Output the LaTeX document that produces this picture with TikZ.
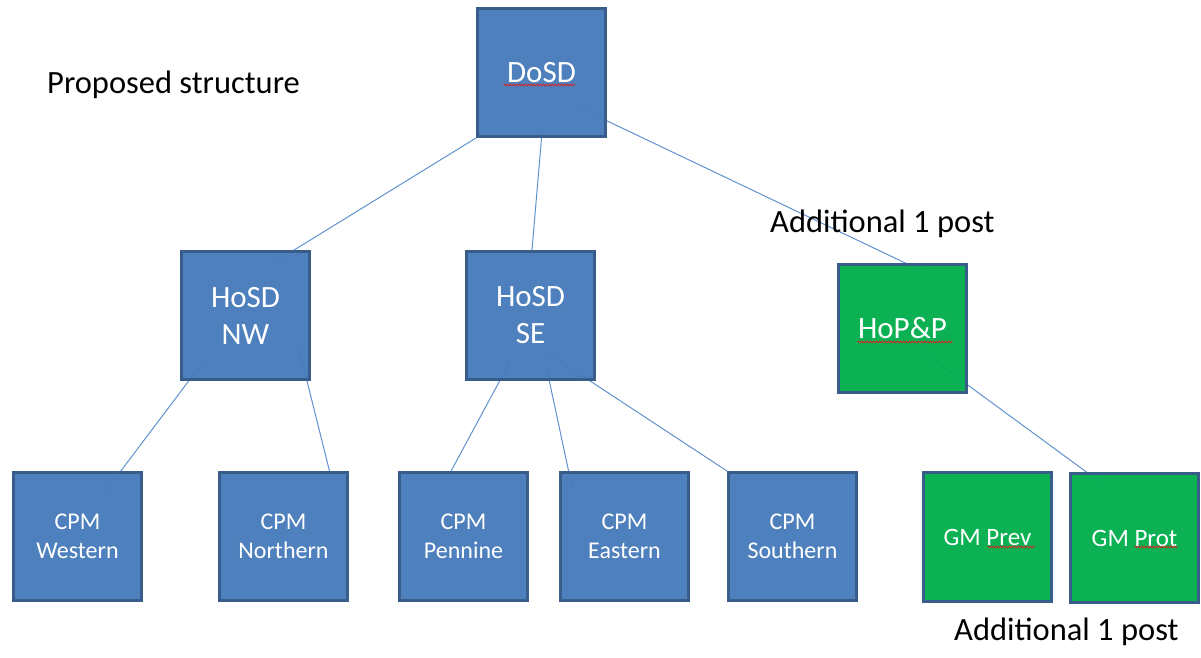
\documentclass[tikz,border=0pt]{standalone}
\usepackage{fontspec}
\setmainfont{Carlito}
\usetikzlibrary{calc,decorations.pathmorphing,backgrounds}
\definecolor{boxblue}{RGB}{70,122,186}
\definecolor{boxedge}{RGB}{56,93,138}
\definecolor{boxgreen}{RGB}{0,174,74}
\definecolor{linkblue}{RGB}{96,146,208}
\definecolor{squig}{RGB}{210,40,40}
\tikzset{
  orgbox/.style={draw=boxedge, line width=3pt, fill=boxblue, fill opacity=0.955, text opacity=1,
    text=white, minimum width=128pt, minimum height=128pt, inner sep=0pt, align=center},
  bigtxt/.style={font=\fontsize{31}{37}\selectfont},
  smalltxt/.style={font=\fontsize{24}{29}\selectfont},
  greenbox/.style={orgbox, fill=boxgreen},
  link/.style={draw=linkblue, line width=1pt},
  spell/.style={draw=squig, line width=0.8pt, decorate, decoration={snake, amplitude=0.9pt, segment length=3pt}},
  plainlabel/.style={anchor=base west, inner sep=0pt, font=\fontsize{32.5}{38}\selectfont, text=black}
}
\begin{document}
\begin{tikzpicture}[x=1pt,y=-1pt]
\useasboundingbox (0,0) rectangle (1201,657);
% boxes
\node[orgbox,bigtxt] (dosd) at (541.5,72.5) {DoSD};
\node[orgbox,bigtxt] (nw) at (245.5,315.5) {HoSD\\NW};
\node[orgbox,bigtxt] (se) at (530.5,315.5) {HoSD\\SE};
\node[greenbox,bigtxt] (hopp) at (902.5,328.5) {HoP\&P};
\node[orgbox,smalltxt] (west) at (77.5,536.5) {CPM\\Western};
\node[orgbox,smalltxt] (north) at (283.5,536.5) {CPM\\Northern};
\node[orgbox,smalltxt] (penn) at (463.5,536.5) {CPM\\Pennine};
\node[orgbox,smalltxt] (east) at (624.5,536.5) {CPM\\Eastern};
\node[orgbox,smalltxt] (south) at (792.5,536.5) {CPM\\Southern};
\node[greenbox,smalltxt,font=\fontsize{25}{29}\selectfont,minimum height=129pt] (prev) at (987.5,537) {GM Prev};
\node[greenbox,smalltxt,font=\fontsize{25}{29}\selectfont,minimum height=129pt] (prot) at (1134.5,538) {GM Prot};
% connectors behind the boxes
\begin{pgfonlayer}{background}
\draw[link] (dosd.south west) -- ($(nw.center)+(27.5,-52.5)$);
\draw[link] ($(dosd.center)+(0.5,60)$) -- ($(se.center)+(1,-60)$);
\draw[link] ($(dosd.center)+(38.5,35.5)$) -- ($(hopp.center)+(17.5,-58.5)$);
\draw[link] ($(hopp.center)+(17.5,21.5)$) -- ($(prot.center)+(-36.5,-57.5)$);
\draw[link] ($(nw.center)+(-42.5,46.5)$) -- ($(west.center)+(27.5,-44.5)$);
\draw[link] ($(nw.center)+(52.5,29.5)$) -- ($(north.center)+(46.5,-63.5)$);
\draw[link] ($(se.center)+(-18.5,42.5)$) -- ($(penn.center)+(-13.5,-63.5)$);
\draw[link] ($(se.center)+(16.5,54.5)$) -- ($(east.center)+(-52.5,-49.5)$);
\draw[link] ($(se.center)+(12.5,34.5)$) -- (south.north west);
\end{pgfonlayer}
% spell-check underlines
\draw[spell] ($(dosd.center)+(-38,12.5)$) -- ($(dosd.center)+(34,12.5)$);
\draw[spell] ($(hopp.center)+(-45,13.5)$) -- ($(hopp.center)+(50,13.5)$);
\draw[spell] ($(prev.center)+(0,10)$) -- ($(prev.center)+(47,10)$);
\draw[spell] ($(prot.center)+(0,9)$) -- ($(prot.center)+(43,9)$);
% labels
\node[plainlabel] (title) at (47,93) {Proposed structure};
\node[plainlabel] (add1) at (770,232) {Additional 1 post};
\node[plainlabel] (add2) at (954,640) {Additional 1 post};
\end{tikzpicture}
\end{document}
